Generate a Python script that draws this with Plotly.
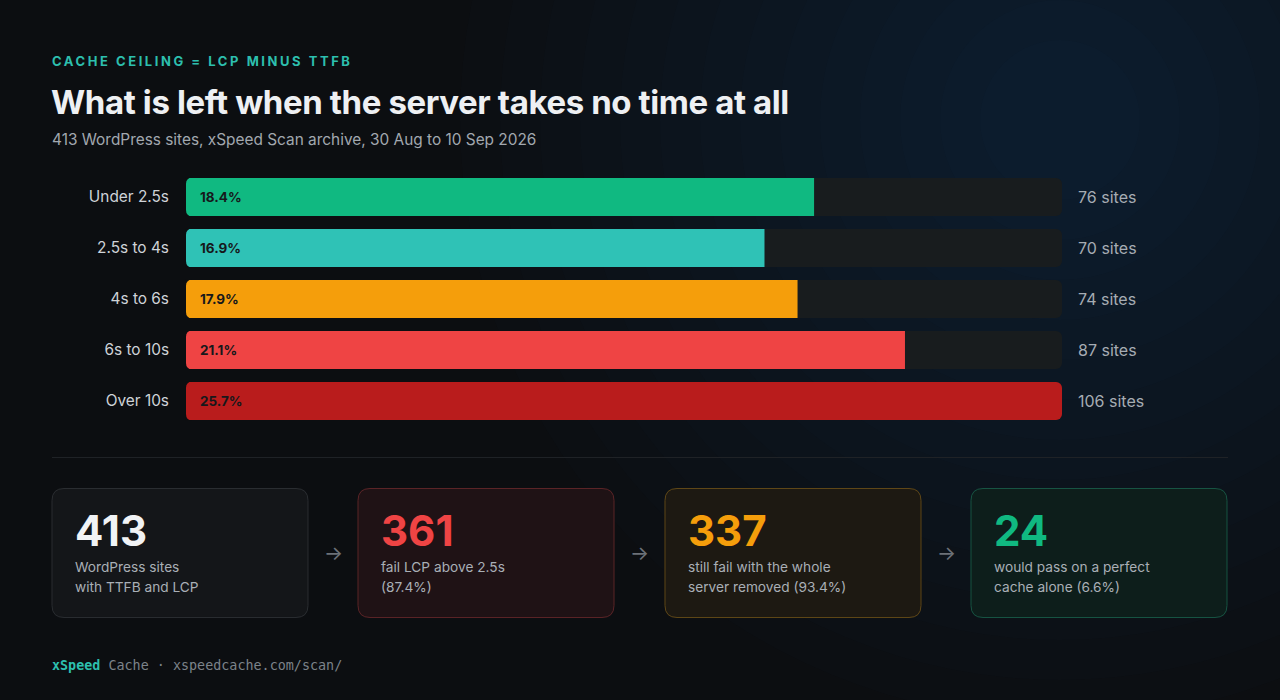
import plotly.graph_objects as go

W, H = 1280, 700

# ---------------- data ----------------
categories = ["Under 2.5s", "2.5s to 4s", "4s to 6s", "6s to 10s", "Over 10s"]
sites = [76, 70, 74, 87, 106]
pct_labels = ["18.4%", "16.9%", "17.9%", "21.1%", "25.7%"]
bar_colors = ["#10b981", "#2fc2b6", "#f59e0b", "#ef4444", "#b91c1c"]

card_values = [413, 361, 337, 24]
card_lines = [
    ["WordPress sites", "with TTFB and LCP"],
    ["fail LCP above 2.5s", "(87.4%)"],
    ["still fail with the whole", "server removed (93.4%)"],
    ["would pass on a perfect", "cache alone (6.6%)"],
]
card_num_colors = ["#f1f3f5", "#ef4444", "#f59e0b", "#10b981"]
card_fills = ["#141619", "#1f1215", "#1d1912", "#0d1e1b"]
card_borders = ["#2a2d31", "#5b2427", "#5f4717", "#175443"]

kicker = "CACHE CEILING = LCP MINUS TTFB"
title = "What is left when the server takes no time at all"
subtitle = "413 WordPress sites, xSpeed Scan archive, 30 Aug to 10 Sep 2026"

BG = "#0c0e11"
FONT = "Inter"


def px(x):
    return x / W


def py(y):
    return 1 - y / H


def path_str(segs):
    s = ""
    for cmd, ps in segs:
        s += cmd + " " + " ".join(f"{px(a):.5f},{py(b):.5f}" for a, b in ps) + " "
    return s + "Z"


def rrect(x0, y0, x1, y1, r):
    return path_str([
        ("M", [(x0 + r, y0)]), ("L", [(x1 - r, y0)]), ("Q", [(x1, y0), (x1, y0 + r)]),
        ("L", [(x1, y1 - r)]), ("Q", [(x1, y1), (x1 - r, y1)]), ("L", [(x0 + r, y1)]),
        ("Q", [(x0, y1), (x0, y1 - r)]), ("L", [(x0, y0 + r)]), ("Q", [(x0, y0), (x0 + r, y0)]),
    ])


fig = go.Figure()

max_sites = max(sites)
BAR_W = 0.745
# track
fig.add_trace(go.Bar(
    y=categories, x=[max_sites] * len(categories), orientation="h",
    marker=dict(color="#181c1e", line=dict(width=0)), width=BAR_W,
    hoverinfo="skip", showlegend=False,
))
# values
fig.add_trace(go.Bar(
    y=categories, x=sites, orientation="h",
    marker=dict(color=bar_colors, line=dict(width=0)), width=BAR_W,
    showlegend=False,
))

annotations = []
for c, p, s in zip(categories, pct_labels, sites):
    annotations.append(dict(x=0, y=c, xref="x", yref="y", text=f"<b>{p}</b>",
                            xanchor="left", yanchor="middle", xshift=12, showarrow=False,
                            font=dict(family=FONT, size=13.5, color="#16181b")))
    annotations.append(dict(x=max_sites, y=c, xref="x", yref="y", text=f"{s} sites",
                            xanchor="left", yanchor="middle", xshift=14, showarrow=False,
                            font=dict(family=FONT, size=16, color="#a6acb3")))

LX = 50
# header texts
annotations.append(dict(x=px(LX), y=py(61), xref="paper", yref="paper", xanchor="left", yanchor="middle",
                        text=f"<b><span style='letter-spacing:2.55px'>{kicker}</span></b>", showarrow=False,
                        font=dict(family=FONT, size=13, color="#2dbfae")))
annotations.append(dict(x=px(LX - 1), y=py(102), xref="paper", yref="paper", xanchor="left", yanchor="middle",
                        text=f"<b><span style='letter-spacing:-0.4px'>{title}</span></b>", showarrow=False,
                        font=dict(family=FONT, size=33, color="#eef0f3")))
annotations.append(dict(x=px(LX), y=py(140), xref="paper", yref="paper", xanchor="left", yanchor="middle",
                        text=subtitle, showarrow=False,
                        font=dict(family=FONT, size=15.4, color="#a2a8af")))

shapes = []
# background glow (top right)
for r in range(600, 40, -40):
    shapes.append(dict(type="circle", xref="paper", yref="paper", layer="below",
                       x0=px(1060 - r), x1=px(1060 + r), y0=py(120 + r), y1=py(120 - r),
                       fillcolor="#3a7e84", opacity=0.02, line=dict(width=0)))

# left-corner masks so bars are rounded on both ends
n = len(categories)
pitch = (426.5 - 171.5) / n
bar_h = BAR_W * pitch
R = 6
for i in range(n):
    cy = 171.5 + pitch * (i + 0.5)
    top, bot = cy - bar_h / 2, cy + bar_h / 2
    x0 = 186
    shapes.append(dict(type="path", xref="paper", yref="paper", layer="above",
                       path=path_str([("M", [(x0 - 0.5, top - 0.5)]), ("L", [(x0 + R, top - 0.5)]),
                                      ("Q", [(x0, top), (x0, top + R)]), ("L", [(x0 - 0.5, top + R)])]),
                       fillcolor=BG, line=dict(width=0)))
    shapes.append(dict(type="path", xref="paper", yref="paper", layer="above",
                       path=path_str([("M", [(x0 - 0.5, bot + 0.5)]), ("L", [(x0 + R, bot + 0.5)]),
                                      ("Q", [(x0, bot), (x0, bot - R)]), ("L", [(x0 - 0.5, bot - R)])]),
                       fillcolor=BG, line=dict(width=0)))

# separator
shapes.append(dict(type="line", xref="paper", yref="paper", x0=px(52), x1=px(1228),
                   y0=py(457.5), y1=py(457.5), line=dict(color="#1f2226", width=1)))

# cards
card_x = [52, 358, 665, 971]
card_w = 256
for i, x0 in enumerate(card_x):
    shapes.append(dict(type="path", xref="paper", yref="paper", layer="below",
                       path=rrect(x0, 488.5, x0 + card_w, 617.5, 12),
                       fillcolor=card_fills[i], line=dict(color=card_borders[i], width=1)))
    annotations.append(dict(x=px(x0 + 21), y=py(530), xref="paper", yref="paper",
                            xanchor="left", yanchor="middle", showarrow=False,
                            text=f"<b>{card_values[i]}</b>",
                            font=dict(family=FONT, size=42, color=card_num_colors[i])))
    for j, line in enumerate(card_lines[i]):
        annotations.append(dict(x=px(x0 + 21), y=py(567 + 20 * j), xref="paper", yref="paper",
                                xanchor="left", yanchor="middle", showarrow=False, text=line,
                                font=dict(family=FONT, size=13.7, color="#a9afb6")))
    if i < len(card_x) - 1:
        annotations.append(dict(x=px((x0 + card_w + card_x[i + 1]) / 2), y=py(553), xref="paper", yref="paper",
                                xanchor="center", yanchor="middle", showarrow=False, text="→",
                                font=dict(family=FONT, size=20, color="#6c7178")))

# footer
annotations.append(dict(x=px(LX), y=py(665), xref="paper", yref="paper", xanchor="left", yanchor="middle",
                        showarrow=False,
                        text="<b><span style='color:#2dbfae'>xSpeed</span></b> Cache · xspeedcache.com/scan/",
                        font=dict(family="DejaVu Sans Mono", size=13.4, color="#7c838a")))

fig.update_layout(
    width=W, height=H,
    margin=dict(l=0, r=0, t=0, b=0),
    paper_bgcolor=BG, plot_bgcolor="rgba(0,0,0,0)",
    barmode="overlay", barcornerradius=R,
    xaxis=dict(domain=[px(186), px(1062)], range=[0, max_sites], visible=False, fixedrange=True),
    yaxis=dict(domain=[py(426.5), py(171.5)], type="category", categoryorder="array",
               categoryarray=categories, autorange="reversed", showgrid=False, zeroline=False,
               showline=False, ticks="", ticklabelstandoff=16,
               tickfont=dict(family=FONT, size=15.4, color="#cfd3d8"), fixedrange=True),
    annotations=annotations, shapes=shapes,
    showlegend=False, hovermode=False,
)

fig.write_html("out.html", config={"displayModeBar": False},
               post_script="document.body.style.margin='0';document.body.style.background='%s';" % BG)
